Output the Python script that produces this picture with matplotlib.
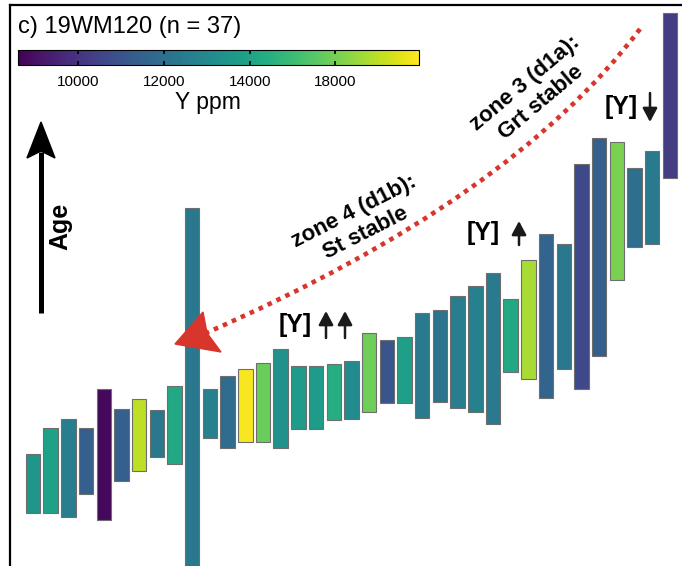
import numpy as np
import matplotlib
matplotlib.use("Agg")
import matplotlib.pyplot as plt
from matplotlib import colors
from matplotlib.patches import Polygon, PathPatch
from matplotlib.path import Path
from matplotlib.lines import Line2D

plt.rcParams['font.family'] = ['Liberation Sans', 'DejaVu Sans']

# Relative age (arbitrary units, up = older): lower and upper end of each spot's bar
age_low = [87, 87, 83, 106, 80, 119, 129, 143, 136, -20, 162, 152, 158, 158, 152,
           171, 171, 180, 181, 188, 197, 197, 182, 198, 192, 188, 176, 228, 221,
           202, 231, 211, 244, 320, 353, 356, 422]
age_high = [146, 172, 181, 172, 211, 191, 201, 190, 214, 392, 211, 224, 231, 237, 251,
            234, 234, 236, 239, 267, 260, 263, 287, 290, 304, 314, 327, 301, 340,
            366, 356, 436, 462, 458, 432, 449, 587]
# Y concentration of each spot (ppm)
y_ppm = [13460, 13930, 12530, 11400, 8790, 11400, 17015, 12340, 14210, 12340, 12620,
         11870, 17860, 15800, 13275, 13740, 13740, 14400, 13090, 15890, 11030, 13840,
         12430, 12150, 12530, 12620, 12430, 14210, 16730, 11590, 12340, 10660, 11400,
         16080, 11970, 12430, 10280]

cbar_ticks = [10000, 12000, 14000, 16000]
cbar_ticklabels = ["10000", "12000", "14000", "18000"]  # as printed on the original

W, H = 682, 566
fig = plt.figure(figsize=(W / 100, H / 100), dpi=100)


def px(x, y):
    # image pixel (from top-left) -> figure fraction
    return (x / W, 1 - y / H)


# main axes runs past the right and bottom edge of the figure
ax = fig.add_axes([10 / W, (H - 600) / H, 690 / W, 595 / H])

n = len(y_ppm)
x = np.arange(1, n + 1)
low = np.array(age_low)
high = np.array(age_high)

cmap = plt.get_cmap('viridis')
norm = colors.Normalize(vmin=8600, vmax=17950)

ax.bar(x, high - low, bottom=low, width=0.82, color=cmap(norm(np.array(y_ppm))),
       edgecolor='#6e6e6e', linewidth=0.8)

ax.set_xlim(-0.3, 38.7)
ax.set_ylim(0, 595)
ax.set_xticks([])
ax.set_yticks([])
for s in ['right', 'bottom']:
    ax.spines[s].set_visible(False)
for s in ['left', 'top']:
    ax.spines[s].set_linewidth(1.6)

# title
fig.text(*px(18, 27), "c) 19WM120 (n = 37)", fontsize=17, ha='left', va='center')

# colorbar
cax = fig.add_axes([18.3 / W, 1 - 65 / H, 400.7 / W, 15 / H])
sm = plt.cm.ScalarMappable(norm=norm, cmap=cmap)
cb = fig.colorbar(sm, cax=cax, orientation='horizontal')
cb.set_ticks(cbar_ticks)
cb.set_ticklabels(cbar_ticklabels)
cb.outline.set_linewidth(0.8)
cax.tick_params(axis='x', direction='in', top=True, bottom=True, length=3,
                width=1.2, labelsize=11, pad=7)
fig.text(*px(208, 103), "Y ppm", fontsize=16.5, ha='center', va='center')

# Age arrow
fig.add_artist(Line2D([41 / W, 41 / W], [1 - 313 / H, 1 - 152 / H], color='black',
                      lw=3.6, transform=fig.transFigure, solid_capstyle='butt'))
head = [px(41, 122), px(27, 158), px(41, 151), px(55, 158)]
fig.add_artist(Polygon(head, closed=True, color='black', transform=fig.transFigure))
fig.text(*px(60, 226), "Age", fontsize=18, fontweight='bold', rotation=90,
         ha='center', va='center')

# red dotted curve with arrow head
red = '#d8352c'
curve = Path([px(640, 29), px(511, 200), px(206, 333)],
             [Path.MOVETO, Path.CURVE3, Path.CURVE3])
fig.add_artist(PathPatch(curve, facecolor='none', edgecolor=red, lw=3.3,
                         linestyle=(0, (1, 1.15)), transform=fig.transFigure))
rhead = [px(175, 344), px(203, 312), px(207, 333), px(221, 352)]
fig.add_artist(Polygon(rhead, closed=True, color=red, transform=fig.transFigure,
                       zorder=5))

# zone labels
fig.text(*px(360, 222), "zone 4 (d1b):\nSt stable", fontsize=16, fontweight='bold',
         rotation=27, ha='center', va='center', rotation_mode='anchor',
         multialignment='center', linespacing=1.2)
fig.text(*px(533, 93), "zone 3 (d1a):\nGrt stable", fontsize=16, fontweight='bold',
         rotation=40, ha='center', va='center', rotation_mode='anchor',
         multialignment='center', linespacing=1.2)

# Y trend labels: "[Y]" text plus small drawn arrows
for tx, ty in [(295.5, 325), (483.5, 233), (621, 107)]:
    fig.text(*px(tx, ty), "[Y]", fontsize=18, fontweight='bold',
             ha='center', va='center')


def small_arrow(xa, y_from, y_to):
    ax.annotate('', xy=px(xa, y_to), xytext=px(xa, y_from),
                xycoords='figure fraction', textcoords='figure fraction',
                arrowprops=dict(arrowstyle='-|>,head_length=0.75,head_width=0.4',
                                color='#1a1a1a', lw=1.8, shrinkA=0, shrinkB=0,
                                mutation_scale=11))


small_arrow(326, 338, 311)
small_arrow(345, 338, 311)
small_arrow(519, 245, 221)
small_arrow(650, 93, 122)

fig.savefig("out.png", dpi=100)
